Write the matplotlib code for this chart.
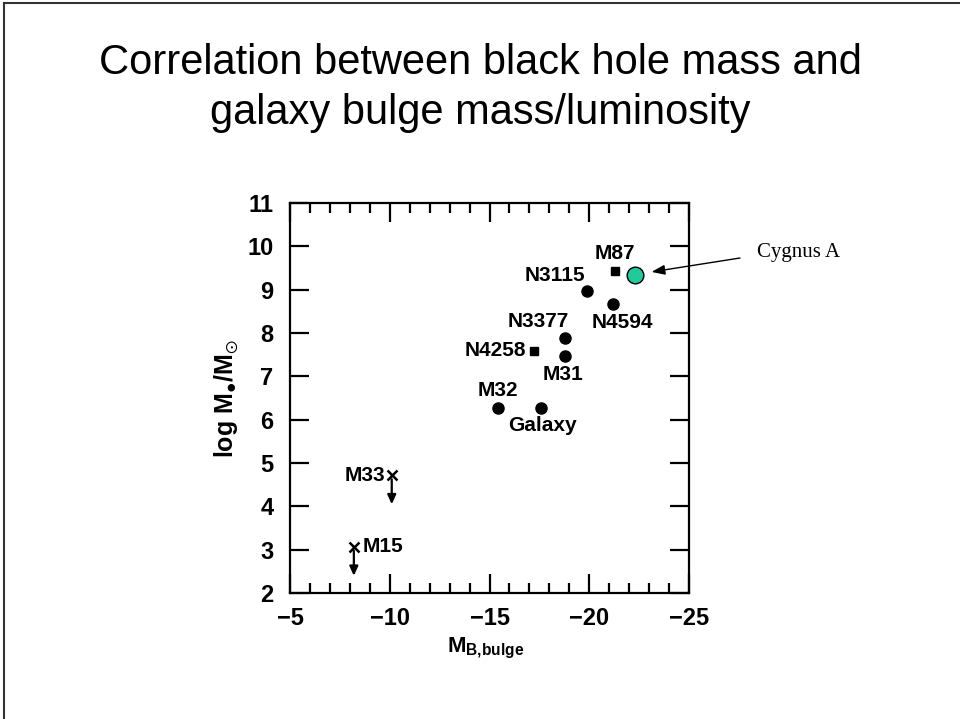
import matplotlib
matplotlib.use("Agg")
import matplotlib.pyplot as plt
from matplotlib.ticker import MultipleLocator
from matplotlib.transforms import offset_copy
from matplotlib.lines import Line2D

plt.rcParams.update({
    "mathtext.fontset": "custom",
    "mathtext.rm": "Liberation Sans:bold",
    "mathtext.it": "Liberation Sans:bold",
    "mathtext.bf": "Liberation Sans:bold",
    "mathtext.sf": "Liberation Sans:bold",
    "mathtext.fallback": "stixsans",
    "mathtext.default": "regular",
})

# Galaxies with measured black hole masses (filled circles)
circle_names = ["N3115", "N4594", "N3377", "M31", "M32", "Galaxy"]
circle_mag = [-19.87, -21.17, -18.78, -18.78, -15.44, -17.57]
circle_logm = [8.98, 8.68, 7.88, 7.48, 6.28, 6.28]

# Masses from maser / gas disk dynamics (filled squares)
square_names = ["M87", "N4258"]
square_mag = [-21.3, -17.25]
square_logm = [9.44, 7.59]

# Upper limits (crosses with downward arrows)
limit_names = ["M33", "M15"]
limit_mag = [-10.1, -8.2]
limit_logm = [4.72, 3.07]

# Cygnus A
cyg_mag = -22.3
cyg_logm = 9.35

fig = plt.figure(figsize=(9.6, 7.19), dpi=100)
fig.patch.set_facecolor("white")

# slide frame (top and left edges)
fig.add_artist(Line2D([0.0042, 0.0042], [0, 0.9958], transform=fig.transFigure,
                      color="#333333", lw=1.5))
fig.add_artist(Line2D([0.0042, 1], [0.9958, 0.9958], transform=fig.transFigure,
                      color="#333333", lw=1.5))

title_font = dict(family="Liberation Sans", fontsize=30, color="black", ha="center",
                  va="baseline")
fig.text(0.5, 1 - 74 / 719, "Correlation between black hole mass and", **title_font)
fig.text(0.5, 1 - 124 / 719, "galaxy bulge mass/luminosity", **title_font)

ax = fig.add_axes([290 / 960, 1 - 593 / 719, 399 / 960, 390 / 719])
ax.set_xlim(-5, -25)
ax.set_ylim(2, 11)

for s in ax.spines.values():
    s.set_linewidth(1.6)

ax.xaxis.set_major_locator(MultipleLocator(5))
ax.xaxis.set_minor_locator(MultipleLocator(1))
ax.yaxis.set_major_locator(MultipleLocator(1))
ax.tick_params(axis="both", which="both", direction="in", top=True, right=True,
               width=1.6)
ax.tick_params(axis="both", which="major", length=14)
ax.tick_params(axis="x", which="minor", length=7)
ax.tick_params(axis="y", which="major", pad=12)
ax.tick_params(axis="x", which="major", pad=10)
for lab in ax.get_xticklabels() + ax.get_yticklabels():
    lab.set_fontfamily("Liberation Sans")
    lab.set_fontweight("bold")
    lab.set_fontsize(17)

ax.set_ylabel("log M$_{\u25cf}$/M$_{\\odot}$", fontsize=18, fontweight="bold",
              fontfamily="Liberation Sans")
ax.yaxis.set_label_coords(-0.122, 0.5)
ax.set_xlabel("M$_{B{,}bulge}$", fontsize=16, fontweight="bold",
              fontfamily="Liberation Sans")
ax.xaxis.set_label_coords(0.49, -0.11)

ax.plot(circle_mag, circle_logm, "o", color="black", markersize=8, linestyle="none")
ax.plot(square_mag, square_logm, "s", color="black", markersize=6, linestyle="none")
ax.plot(limit_mag, limit_logm, "x", color="black", markersize=7, mew=1.8,
        linestyle="none")
ax.plot([cyg_mag], [cyg_logm], "o", markerfacecolor="#22C99A",
        markeredgecolor="black", markeredgewidth=1.0, markersize=12, zorder=5)

label_font = dict(fontsize=15, fontweight="bold", family="Liberation Sans",
                  textcoords="offset points", va="center")
# (dx, dy, ha) offsets in points for each label
offsets = {
    "N3115": (-23, 11, "center"),
    "N4594": (7, -14, "center"),
    "N3377": (-19, 12, "center"),
    "M31": (-1.5, -14, "center"),
    "M32": (0, 12, "center"),
    "Galaxy": (1.5, -13, "center"),
    "M87": (0, 12, "center"),
    "N4258": (-6, 0, "right"),
    "M33": (-5, 0, "right"),
    "M15": (6, 0, "left"),
}
all_names = circle_names + square_names + limit_names
all_x = circle_mag + square_mag + limit_mag
all_y = circle_logm + square_logm + limit_logm
for n, x, y in zip(all_names, all_x, all_y):
    dx, dy, ha = offsets[n]
    ax.annotate(n, (x, y), xytext=(dx, dy), ha=ha, **label_font)

# downward arrows on the upper limits
down = offset_copy(ax.transData, fig=fig, y=-21, units="points")
for x, y in zip(limit_mag, limit_logm):
    ax.annotate("", xy=(x, y), xycoords=down, xytext=(x, y), textcoords="data",
                arrowprops=dict(arrowstyle="-|>,head_length=0.55,head_width=0.25",
                                color="black", lw=1.6, shrinkA=3, shrinkB=0))

# Cygnus A callout
fig.text(757 / 960, 1 - 252 / 719, "Cygnus A", family="Liberation Serif",
         fontsize=15, va="center", ha="left")
ax.annotate("", xy=(cyg_mag, cyg_logm), xycoords="data",
            xytext=(740, 719 - 258), textcoords="figure pixels",
            arrowprops=dict(arrowstyle="-|>,head_length=0.8,head_width=0.3",
                            color="black", lw=1.0, shrinkA=0, shrinkB=12))

fig.savefig("out.png", dpi=100)
